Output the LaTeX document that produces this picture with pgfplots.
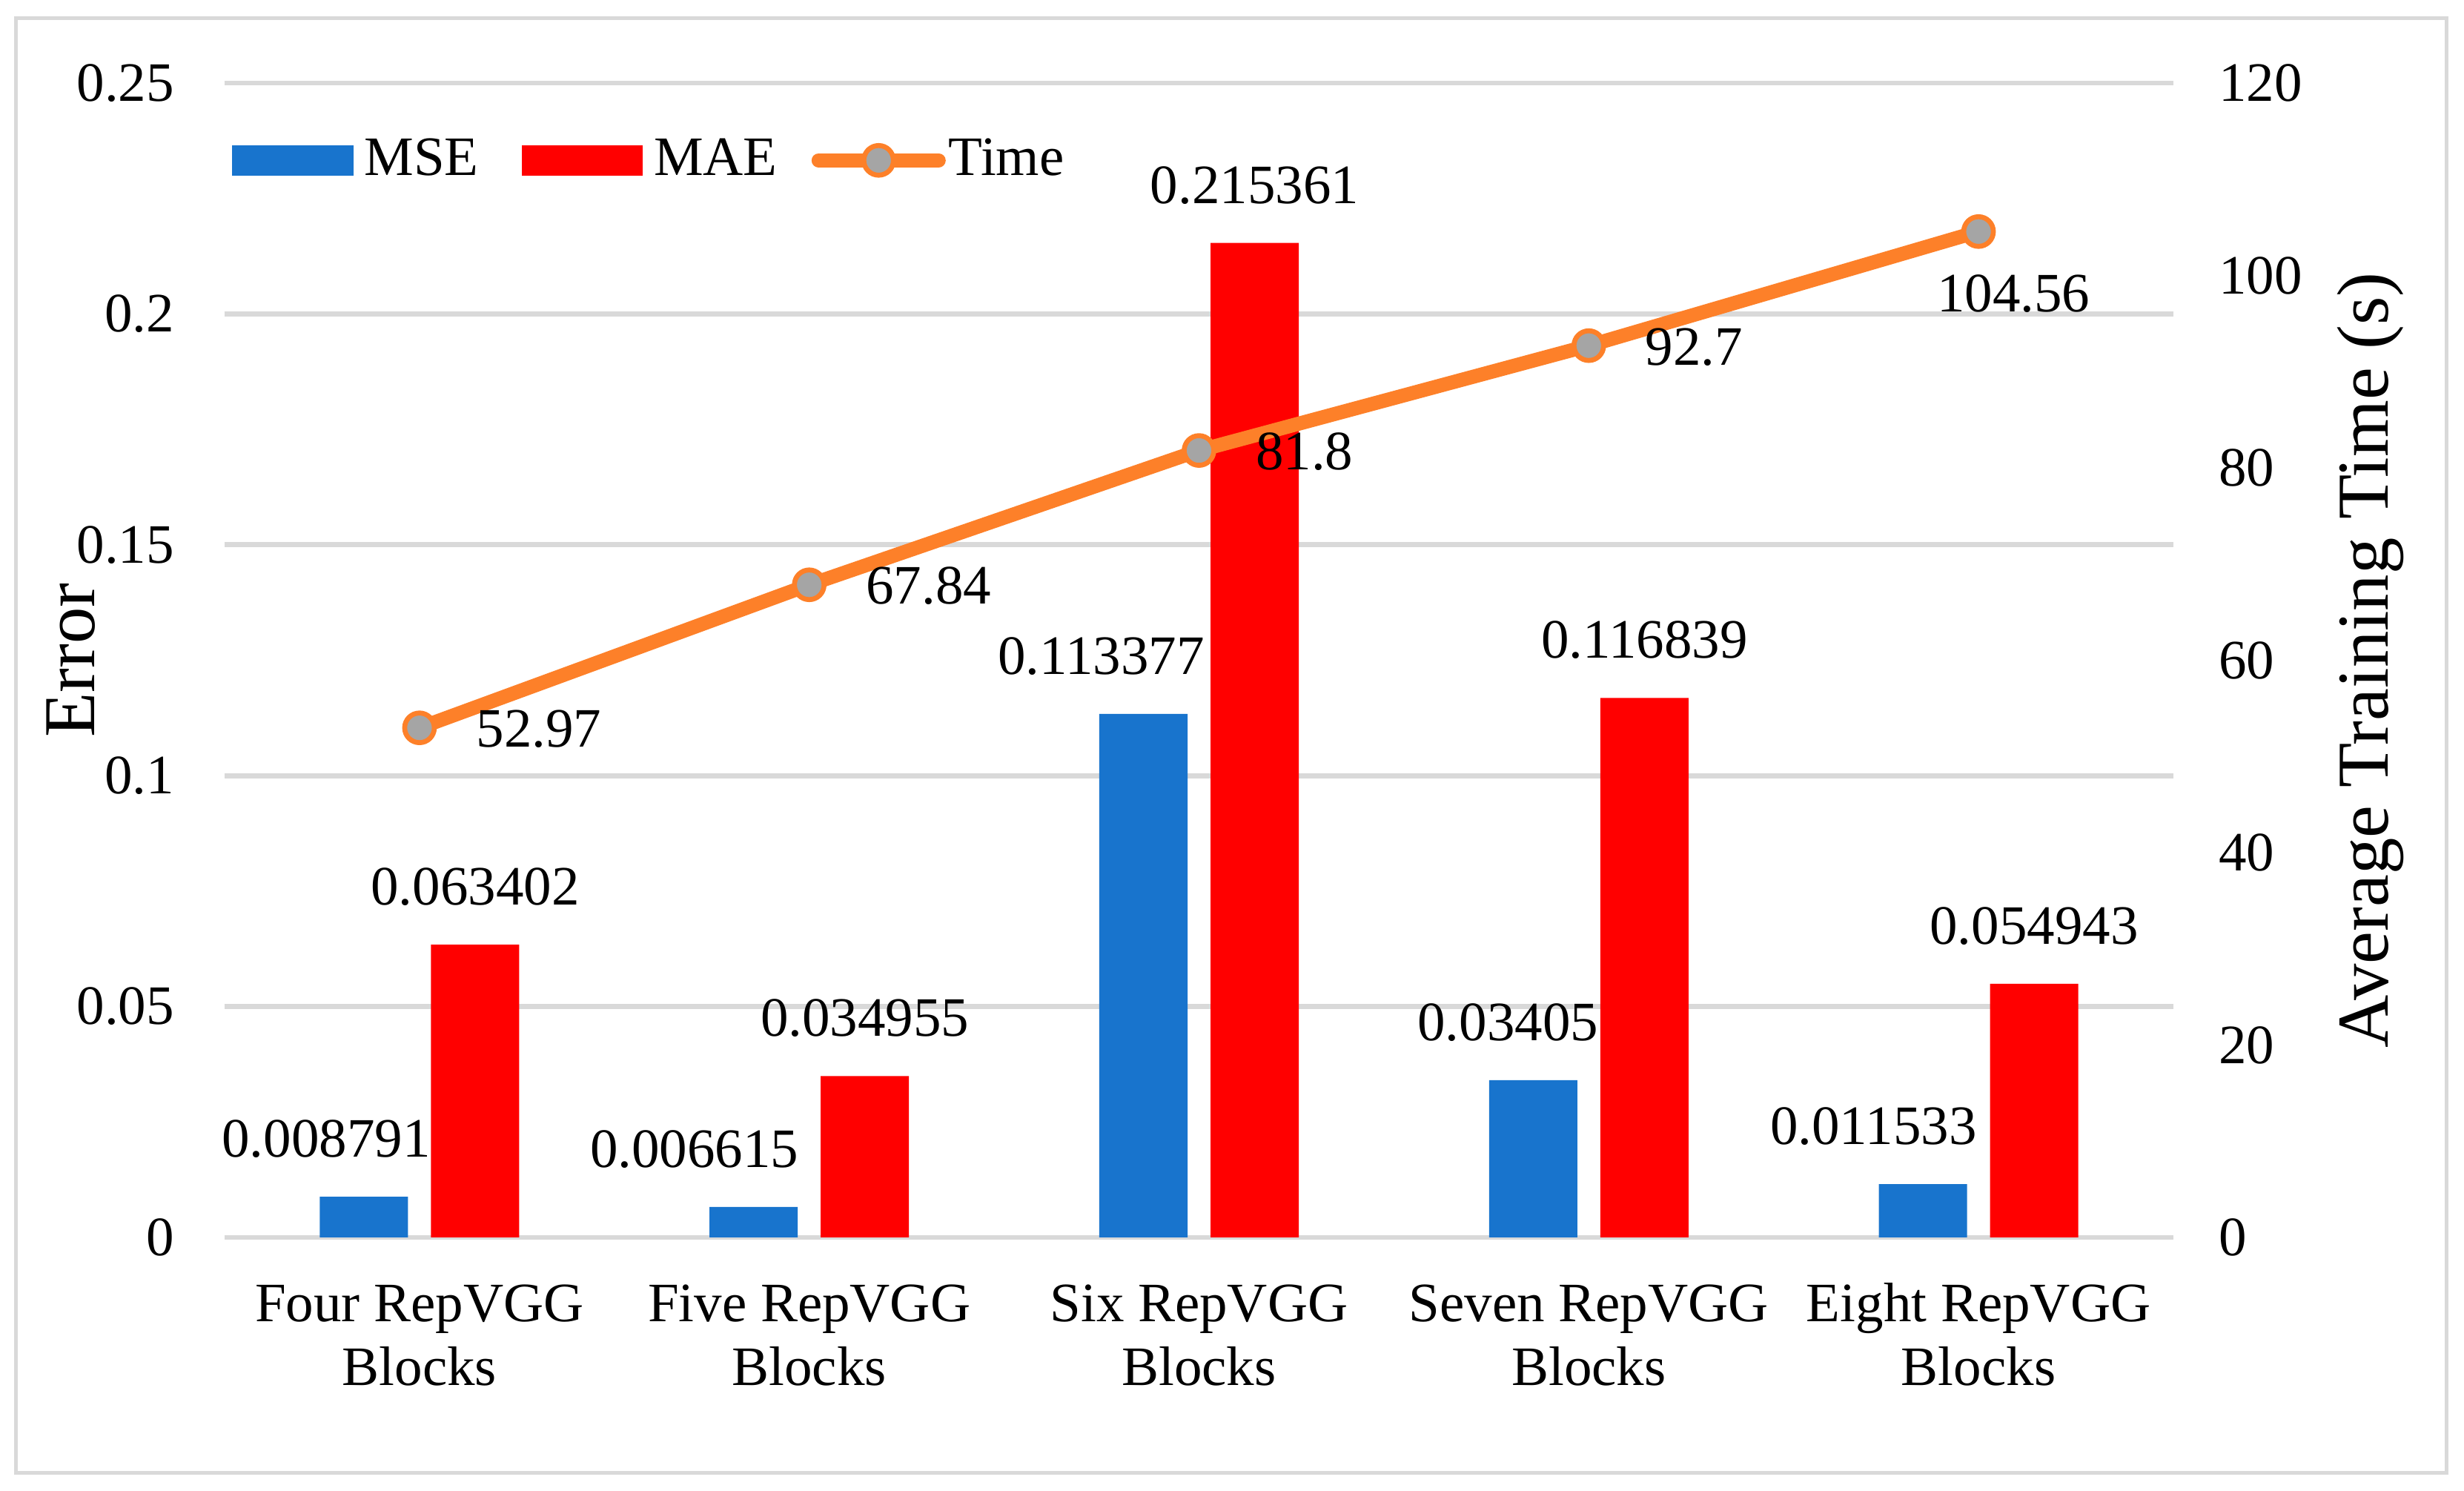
\documentclass[border=0pt]{standalone}
\usepackage{fontspec}
\setmainfont{Liberation Serif}
\usepackage{pgfplots}
\usepackage{pgfplotstable}
\pgfplotsset{compat=1.18}

\definecolor{mseblue}{RGB}{24,116,205}
\definecolor{maered}{RGB}{255,0,0}
\definecolor{timeorange}{RGB}{253,128,41}
\definecolor{gridgray}{RGB}{217,217,217}
\definecolor{markgray}{RGB}{165,165,165}

\newcommand{\lblfont}{\fontsize{11.25}{12.9}\selectfont}
\newcommand{\titlefont}{\fontsize{14.8}{17}\selectfont}

\pgfplotsset{
  barlegend/.style={legend image code/.code={\fill[#1] (0pt,-2.85pt) rectangle (24.15pt,2.85pt);}},
  timelegend/.style={legend image code/.code={%
    \draw[##1, line cap=round, mark repeat=2, mark phase=2]
      plot coordinates {(0pt,0pt) (12.15pt,0pt) (24.3pt,0pt)};}},
}

% dx: horizontal offset of the data label from the category centre (pt)
\pgfplotstableread{
x y        dx
0 0.008791 -18.9
1 0.006615 -23.25
2 0.113377 -19.8
3 0.03405  -16.35
4 0.011533 -21.25
}\msedata

\pgfplotstableread{
x y
0 0.063402
1 0.034955
2 0.215361
3 0.116839
4 0.054943
}\maedata

\pgfplotstableread{
x y      dx   dy
0 52.97  11   -3.9
1 67.84  11   -3.9
2 81.8   11   -3.9
3 92.7   11   -3.9
4 104.56 -8.9 -16.2
}\timedata

\begin{document}
\begin{tikzpicture}
\useasboundingbox (-45.45pt,-51.3pt) rectangle (453.15pt,250.35pt);
\draw[gridgray, line width=0.75pt] (-42.15pt,-47.7pt) rectangle (449.55pt,246.6pt);

\begin{axis}[
    scale only axis,
    width=394.35pt, height=233.55pt,
    xmin=-0.5, xmax=4.5,
    ymin=0, ymax=0.25,
    xtick={0,1,2,3,4},
    xticklabels={{\strut Four RepVGG\\Blocks},{\strut Five RepVGG\\Blocks},{\strut Six RepVGG\\Blocks},{\strut Seven RepVGG\\Blocks},{\strut Eight RepVGG\\Blocks}},
    ytick={0,0.05,0.1,0.15,0.2,0.25},
    yticklabels={0,0.05,0.1,0.15,0.2,0.25},
    ymajorgrids,
    grid style={gridgray, line width=1pt},
    axis line style={draw=none},
    major tick length=0pt,
    tick label style={font=\lblfont, inner sep=0pt},
    yticklabel style={anchor=east, xshift=-10pt},
    xticklabel style={anchor=north, yshift=-7.8pt, align=center},
    ylabel={Error},
    ylabel style={font=\titlefont, at={(axis description cs:-0.0666,0.5)}, anchor=base},
]

    % MSE bars
    \addplot[
        ybar, bar width=17.85pt, bar shift=-11.25pt,
        fill=mseblue, draw=none,
        nodes near coords, point meta=explicit symbolic,
        visualization depends on={\thisrow{dx} \as \labeldx},
        every node near coord/.append style={font=\lblfont, text=black, inner sep=0pt,
            anchor=base, xshift=\labeldx pt, yshift=8pt}
    ] table[x=x, y=y, meta=y] {\msedata};

    % MAE bars
    \addplot[
        ybar, bar width=17.85pt, bar shift=11.25pt,
        fill=maered, draw=none,
        nodes near coords, point meta=explicit symbolic,
        every node near coord/.append style={font=\lblfont, text=black, inner sep=0pt,
            anchor=base, xshift=11.25pt, yshift=8pt}
    ] table[x=x, y=y, meta=y] {\maedata};

\end{axis}

\begin{axis}[
    scale only axis,
    width=394.35pt, height=233.55pt,
    xmin=-0.5, xmax=4.5,
    ymin=0, ymax=120,
    hide x axis,
    axis y line*=right,
    y axis line style={draw=none},
    major tick length=0pt,
    ytick={0,20,40,60,80,100,120},
    yticklabels={0,20,40,60,80,100,120},
    yticklabel style={font=\lblfont, inner sep=0pt, anchor=west, xshift=9pt},
    ylabel={Average Training Time (s)},
    ylabel style={font=\titlefont, at={(axis description cs:1.1103,0.5)}, anchor=base},
    legend columns=-1,
    legend style={at={(axis description cs:0.0034,0.933)}, anchor=west,
        draw=none, fill=none, inner sep=0pt, font=\lblfont,
        nodes={inner sep=0pt},
        /tikz/column 1/.style={column sep=2.2pt},
        /tikz/column 2/.style={column sep=8.7pt},
        /tikz/column 3/.style={column sep=2.2pt},
        /tikz/column 4/.style={column sep=6.9pt},
        /tikz/column 5/.style={column sep=0.6pt}},
]
    \addlegendimage{barlegend=mseblue}
    \addlegendentry{MSE}
    \addlegendimage{barlegend=maered}
    \addlegendentry{MAE}

    % training time line
    \addplot[
        timeorange, line width=2.85pt, line join=round,
        mark=*, mark size=3pt,
        mark options={fill=markgray, draw=timeorange, line width=1pt},
        timelegend,
        nodes near coords, point meta=explicit symbolic,
        visualization depends on={\thisrow{dx} \as \labeldx},
        visualization depends on={\thisrow{dy} \as \labeldy},
        every node near coord/.append style={font=\lblfont, text=black, inner sep=0pt,
            anchor=base west, xshift=\labeldx pt, yshift=\labeldy pt}
    ] table[x=x, y=y, meta=y] {\timedata};
    \addlegendentry{Time}
\end{axis}
\end{tikzpicture}
\end{document}
